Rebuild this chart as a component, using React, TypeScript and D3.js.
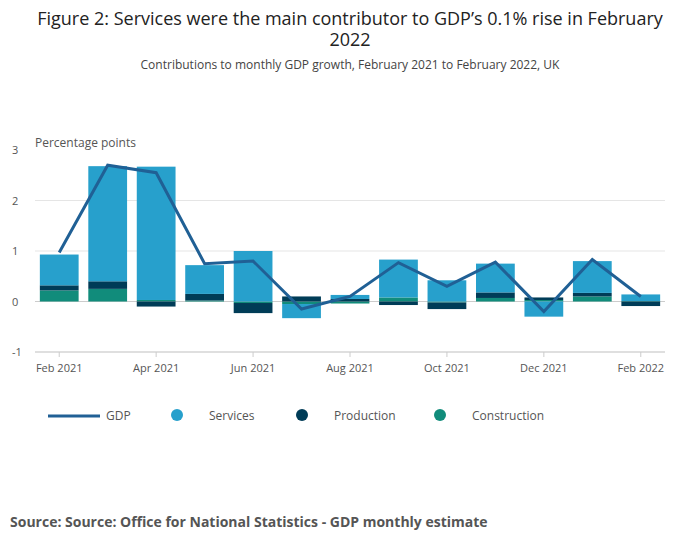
import React from 'react';
import * as d3 from 'd3';

const months = ['Feb 2021','Mar 2021','Apr 2021','May 2021','Jun 2021','Jul 2021','Aug 2021','Sep 2021','Oct 2021','Nov 2021','Dec 2021','Jan 2022','Feb 2022'];
const services = [0.61, 2.28, 2.64, 0.57, 1.0, -0.28, 0.08, 0.75, 0.42, 0.57, -0.3, 0.63, 0.13];
const production = [0.1, 0.15, -0.1, 0.13, -0.2, 0.1, 0.05, -0.07, -0.13, 0.11, 0.05, 0.07, -0.09];
const construction = [0.22, 0.25, 0.03, 0.02, -0.03, -0.05, -0.04, 0.08, -0.02, 0.07, 0.03, 0.1, 0.01];
const gdp = [0.97, 2.7, 2.55, 0.75, 0.8, -0.15, 0.1, 0.77, 0.3, 0.78, -0.2, 0.83, 0.1];
const yTicks = [-1, 0, 1, 2, 3];
const xTickIdx = [0, 2, 4, 6, 8, 10, 12];

const keys = ['construction', 'production', 'services'];
const colors: Record<string, string> = { services: '#27a0cc', production: '#003c57', construction: '#118c7b' };

export default function App() {
  const W = 700, H = 549;
  const left = 35, right = 665, top = 150, bottom = 352;
  const x = d3.scaleBand().domain(months).range([left, right]).paddingInner(0.2).paddingOuter(0.1);
  const y = d3.scaleLinear().domain([-1, 3]).range([bottom, top]);
  const rows = months.map((m, i) => ({ m, services: services[i], production: production[i], construction: construction[i] }));
  const series = d3.stack<any>().keys(keys).offset(d3.stackOffsetDiverging)(rows);
  const cx = (m: string) => (x(m) as number) + x.bandwidth() / 2;
  const line = d3.line<number>().x((_, i) => cx(months[i])).y(d => y(d));
  const font = "'Open Sans', sans-serif";
  const legend = [
    { label: 'GDP', type: 'line', x: 48 },
    { label: 'Services', type: 'services', x: 172 },
    { label: 'Production', type: 'production', x: 297 },
    { label: 'Construction', type: 'construction', x: 435 },
  ];
  return (
    <svg width={W} height={H} style={{ position: 'absolute', left: 0, top: 0, fontFamily: font }}>
      <rect width={W} height={H} fill="#fff" />
      <text x={350} y={25} textAnchor="middle" fontSize={18} fill="#222">Figure 2: Services were the main contributor to GDP’s 0.1% rise in February</text>
      <text x={350} y={46} textAnchor="middle" fontSize={18} fill="#222">2022</text>
      <text x={350} y={69} textAnchor="middle" fontSize={12} fill="#444">Contributions to monthly GDP growth, February 2021 to February 2022, UK</text>
      <text x={35} y={147} fontSize={12} fill="#555">Percentage points</text>
      {yTicks.map(t => (
        <g key={t}>
          {t !== 3 && <line x1={left} x2={right} y1={y(t)} y2={y(t)} stroke={t === 0 ? '#ccc' : '#e5e5e5'} />}
          <text x={12} y={y(t) + 4} fontSize={11} fill="#555">{t}</text>
        </g>
      ))}
      {series.map(s => (
        <g key={s.key} fill={colors[s.key]}>
          {s.map((d, i) => (
            <rect key={i} x={x(months[i])} width={x.bandwidth()} y={y(Math.max(d[0], d[1]))} height={Math.abs(y(d[0]) - y(d[1]))} />
          ))}
        </g>
      ))}
      <path d={line(gdp) as string} fill="none" stroke="#206095" strokeWidth={3} />
      <line x1={left} x2={right} y1={bottom} y2={bottom} stroke="#ccc" />
      {xTickIdx.map(i => (
        <g key={i}>
          <line x1={cx(months[i])} x2={cx(months[i])} y1={bottom} y2={bottom + 5} stroke="#ccc" />
          <text x={cx(months[i])} y={bottom + 20} textAnchor="middle" fontSize={11} fill="#555">{months[i]}</text>
        </g>
      ))}
      {legend.map(l => (
        <g key={l.label}>
          {l.type === 'line'
            ? <line x1={l.x} x2={l.x + 52} y1={416} y2={416} stroke="#206095" strokeWidth={3} />
            : <circle cx={l.x + 5} cy={415} r={6} fill={colors[l.type]} />}
          <text x={l.type === 'line' ? l.x + 58 : l.x + 37} y={420} fontSize={12} fill="#555">{l.label}</text>
        </g>
      ))}
      <text x={10} y={527} fontSize={14} fontWeight="bold" fill="#555">Source: Source: Office for National Statistics - GDP monthly estimate</text>
    </svg>
  );
}
